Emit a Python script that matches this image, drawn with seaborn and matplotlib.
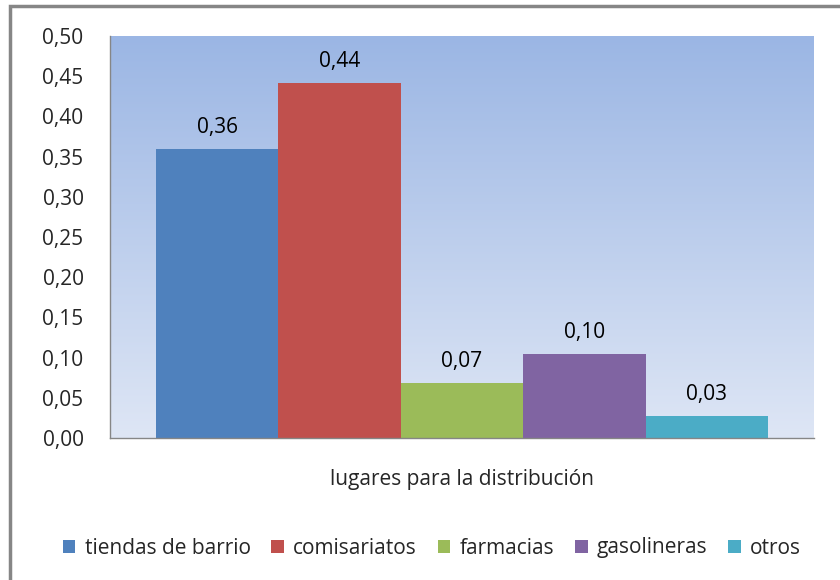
import numpy as np
import matplotlib
matplotlib.use('Agg')
import matplotlib.pyplot as plt
from matplotlib.patches import Patch, Rectangle
from matplotlib.ticker import FuncFormatter
import seaborn as sns

categorias = ['tiendas de barrio', 'comisariatos', 'farmacias', 'gasolineras', 'otros']
valores = [0.3595, 0.4415, 0.0684, 0.1045, 0.0274]
colores = ['#4F81BD', '#C0504D', '#9BBB59', '#8064A2', '#4BACC6']
yticks = [0.0, 0.05, 0.10, 0.15, 0.20, 0.25, 0.30, 0.35, 0.40, 0.45, 0.50]

sns.set_style('white')
plt.rcParams['font.family'] = ['Open Sans', 'DejaVu Sans']
fs = 15

fig = plt.figure(figsize=(8.4, 5.8), dpi=100)
ax = fig.add_axes([110 / 840, 142 / 580, 704 / 840, 402 / 580])

# gradiente de fondo
xlim = (-0.5 - 46 / 122, 4.5 + 46 / 122)
top = np.array([155, 182, 228]) / 255
bot = np.array([222, 230, 245]) / 255
t = np.linspace(0, 1, 256)[:, None]
grad = (top * (1 - t) + bot * t)[:, None, :]
grad = np.repeat(grad, 2, axis=1)
ax.imshow(grad, extent=[xlim[0], xlim[1], 0, 0.5], aspect='auto', zorder=0, origin='upper')

sns.barplot(x=categorias, y=valores, hue=categorias, palette=colores, width=1,
            legend=False, ax=ax, zorder=2, saturation=1, edgecolor='none', linewidth=0)

for i, v in enumerate(valores):
    ax.annotate(f'{v:.2f}'.replace('.', ','), (i, v), xytext=(0, 8), textcoords='offset points',
                ha='center', va='bottom', fontsize=fs, color='black')

ax.set_xlim(*xlim)
ax.set_ylim(0, 0.5)
ax.set_yticks(yticks)
ax.yaxis.set_major_formatter(FuncFormatter(lambda v, p: f'{v:.2f}'.replace('.', ',')))
ax.set_xticks([])
ax.tick_params(axis='y', length=0, pad=19, labelsize=fs)
ax.set_xlabel('lugares para la distribución', fontsize=fs, labelpad=22)
ax.set_ylabel('')
for s in ['top', 'right']:
    ax.spines[s].set_visible(False)
for s in ['left', 'bottom']:
    ax.spines[s].set_color('#868686')
    ax.spines[s].set_linewidth(1)
    ax.spines[s].set_zorder(3)

handles = [Patch(facecolor=c, edgecolor='none') for c in colores]
fig.legend(handles, categorias, loc='center', bbox_to_anchor=(432 / 840, 1 - 548 / 580), ncol=5,
           frameon=False, fontsize=fs, handlelength=0.6, handleheight=0.6,
           handletextpad=0.45, columnspacing=1.0)

# marco exterior
fig.patches.append(Rectangle((10 / 840, -0.1), 1.0, 1 - 6 / 580 + 0.1, transform=fig.transFigure,
                             fill=False, edgecolor='#868686', linewidth=2.5))

fig.savefig('out.png', dpi=100)
